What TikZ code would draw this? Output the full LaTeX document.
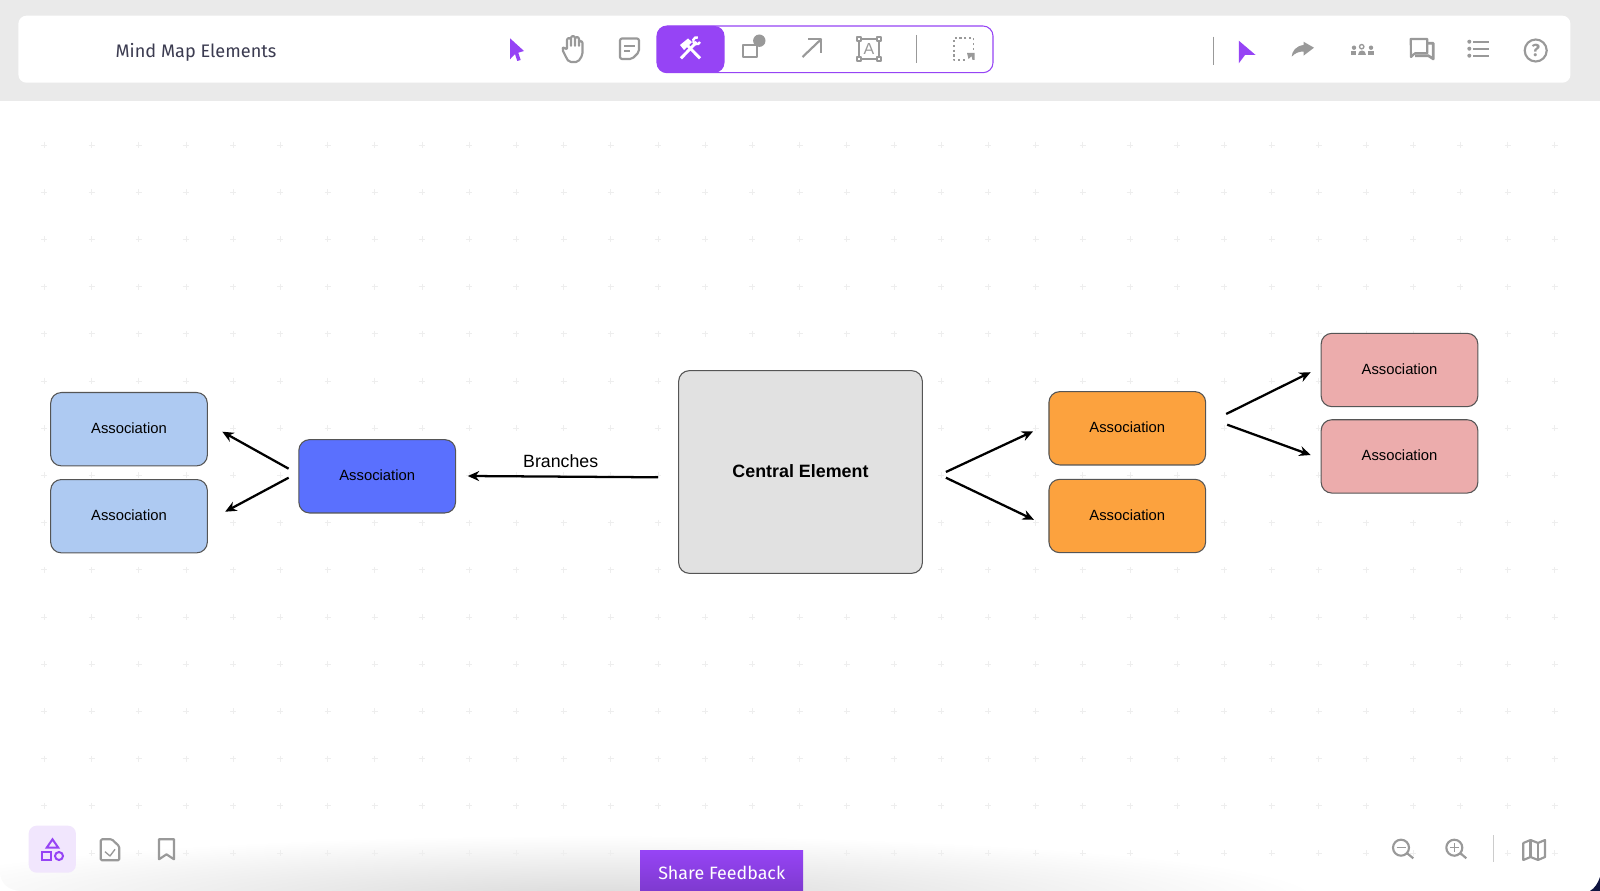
\documentclass[tikz,border=0pt]{standalone}
\usepackage{fontspec}
\setmainfont{Liberation Sans}
\newfontfamily\uifont{Fira Sans}
\usetikzlibrary{arrows.meta}

\definecolor{barGray}{HTML}{EAEAEA}
\definecolor{iconGray}{HTML}{999999}
\definecolor{toolPurple}{HTML}{9644F5}
\definecolor{feedbackDark}{HTML}{7E3ACF}
\definecolor{paleLilac}{HTML}{F1E6FD}
\definecolor{titleInk}{HTML}{3B3B50}
\definecolor{gridGray}{HTML}{EEEEEE}
\definecolor{glowGray}{HTML}{DADADA}
\definecolor{edgeGray}{HTML}{555555}
\definecolor{skyFill}{HTML}{AECAF2}
\definecolor{blueFill}{HTML}{5A70FE}
\definecolor{centralFill}{HTML}{E1E1E1}
\definecolor{orangeFill}{HTML}{FCA23E}
\definecolor{pinkFill}{HTML}{ECACAC}
\definecolor{cornerNavy}{HTML}{0F1440}

\tikzset{
  assocbox/.style={draw=edgeGray,line width=.8pt,rounded corners=8pt,inner sep=0pt,minimum width=117.5pt,minimum height=55pt,text depth=1.5pt,font=\fontsize{11.1}{13}\selectfont},
  link/.style={line width=1.7pt,-{Stealth[length=8.5pt,width=7.5pt]}},
  gridmark/.style={draw=gridGray,line width=.6pt},
  icon/.style={draw=iconGray,line width=1.6pt,line join=round},
  purpleicon/.style={draw=toolPurple,line width=1.5pt},
  whiteicon/.style={draw=white,line width=2.2pt},
  divider/.style={draw=iconGray,line width=.7pt}
}

\begin{document}
\begin{tikzpicture}[x=.75pt,y=-.75pt]

\useasboundingbox (0,0) rectangle (1600,891);

\fill[white] (0,0) rectangle (1600,891);
\begin{scope}
\clip (0,0) rectangle (1600,891);
\shade[inner color=glowGray,outer color=white] (-120,835) rectangle (1320,960);
\end{scope}

\foreach \i in {0,...,32}
  \foreach \j in {0,...,15}
    \draw[gridmark] (44.3+47.2*\i,145+47.2*\j) +(-3,0) -- +(3,0) +(0,-3) -- +(0,3);

\fill[white] (0,873) .. controls (1,884) and (8,890) .. (20,891) -- (0,891) -- cycle;
\fill[cornerNavy] (1600,877) .. controls (1598,883) and (1595,888) .. (1590,891) -- (1600,891) -- cycle;

\fill[barGray] (0,0) rectangle (1600,101);
\fill[white,rounded corners=6pt] (18.4,15.7) rectangle (1570.4,82.7);

\node at (196,52.5) [font=\uifont\fontsize{13.6}{16}\selectfont,text=titleInk] (title) {Mind Map Elements};

\fill[toolPurple] (510,38.3) -- (524,51) -- (518.3,52.7) -- (520.7,60) -- (517.3,61) -- (515,54) -- (510,59.3) -- cycle;

\draw[icon,rounded corners=1.5pt] (562,49) -- (567,59) -- (569,62) -- (578,62) -- (582.5,55) -- (582.5,41) -- (579,41) -- (579,47) -- (579,37) -- (575,37) -- (575,47) -- (575,36) -- (571,36) -- (571,47) -- (571,38) -- (567,38) -- (567,50) -- (564,47) -- cycle;

\draw[icon,rounded corners=1.5pt] (620,38.5) -- (639,38.5) -- (639,52) -- (632,59) -- (620,59) -- cycle;
\draw[icon] (624,45.7) -- (635,45.7);
\draw[icon] (624,51) -- (630,51);

\draw[draw=toolPurple,line width=.8pt,rounded corners=7.5pt] (657,26) rectangle (993,72.7);
\fill[toolPurple,rounded corners=7.5pt] (657,26) rectangle (724.5,72.7);
\draw[whiteicon] (681,58.3) -- (696.7,42);
\draw[whiteicon] (700,58.3) -- (686,44);
\fill[white] (680,45) -- (688,38.5) -- (692,42) -- (684,50) -- cycle;
\draw[white,line width=1.8pt] (700,42) arc (20:290:3.5);

\fill[iconGray] (759.3,40.7) circle (6.2);
\draw[icon,fill=white] (743.3,45) rectangle (756.7,57.3);

\draw[icon] (802.5,57) -- (821.4,39);
\draw[icon] (808,39) -- (821.4,39) -- (821.4,53);

\draw[icon] (859,39) rectangle (879,59);
\draw[icon,fill=white,line width=1pt] (857,37) rectangle +(4,4);
\draw[icon,fill=white,line width=1pt] (877,37) rectangle +(4,4);
\draw[icon,fill=white,line width=1pt] (857,57) rectangle +(4,4);
\draw[icon,fill=white,line width=1pt] (877,57) rectangle +(4,4);
\node at (869,49) [font=\fontsize{12}{12}\selectfont,text=iconGray,inner sep=0pt] (framedA) {A};

\draw[divider] (916.8,35) -- (916.8,62.7);

\draw[icon,dotted,line width=1.3pt] (973.5,50) -- (973.5,38) -- (954,38) -- (954,60) -- (965,60);
\fill[iconGray] (967,53) -- (974.5,53) -- (974.5,60) -- (972.5,60) -- (971.5,56) -- (968.5,59) -- cycle;

\draw[divider] (1213.3,36.7) -- (1213.3,65);

\fill[toolPurple] (1238.8,40.7) -- (1255.6,55) -- (1245,55) -- (1238.8,63.3) -- cycle;

\fill[iconGray] (1314,47.7) -- (1303.5,41.7) -- (1303.5,45) .. controls (1296,46) and (1292,51) .. (1291.7,56.7) .. controls (1295,53) and (1299,51.5) .. (1303.5,51.5) -- (1303.5,55.7) -- cycle;

\draw[icon,line width=1pt] (1361.7,46.7) circle (2.2);
\fill[iconGray] (1357.5,55) .. controls (1357.5,49.5) and (1366,49.5) .. (1366,55) -- cycle;
\fill[iconGray] (1354,47.7) circle (2.2);
\fill[iconGray] (1371,47.7) circle (2.2);
\fill[iconGray] (1350.7,55) rectangle (1356.2,51);
\fill[iconGray] (1367.8,55) rectangle (1374.3,51);

\draw[icon] (1410.7,39) -- (1427.3,39) -- (1427.3,53.3) -- (1415,53.3) -- (1411,57) -- cycle;
\draw[icon,line width=2pt] (1428,43.3) -- (1433.3,43.3) -- (1433.3,59) -- (1428.3,55.7) -- (1415,55.7);

\fill[iconGray] (1469.3,41.7) circle (2);
\fill[iconGray] (1469.3,48.7) circle (2);
\fill[iconGray] (1469.3,55.7) circle (2);
\draw[icon] (1473.3,41.7) -- (1489.3,41.7);
\draw[icon] (1473.3,48.7) -- (1489.3,48.7);
\draw[icon] (1473.3,55.7) -- (1489.3,55.7);

\node at (1535.7,50.5) [circle,icon,minimum size=16.5pt,inner sep=0pt,font=\uifont\fontsize{13}{13}\selectfont\bfseries,text=iconGray] (helpmark) {?};

\node at (129,429.2) [assocbox,fill=skyFill] (skyA) {Association};
\node at (129,516.2) [assocbox,fill=skyFill] (skyB) {Association};
\node at (377.2,476.3) [assocbox,fill=blueFill] (blue) {Association};
\node at (800.5,472) [assocbox,fill=centralFill,minimum width=182.8pt,minimum height=152pt,font=\fontsize{13.4}{15}\selectfont\bfseries] (central) {Central Element};
\node at (1127.3,428.3) [assocbox,fill=orangeFill] (orangeA) {Association};
\node at (1127.3,516) [assocbox,fill=orangeFill] (orangeB) {Association};
\node at (1399.5,370) [assocbox,fill=pinkFill] (pinkA) {Association};
\node at (1399.5,456.4) [assocbox,fill=pinkFill] (pinkB) {Association};

\draw[link] ([shift={(-20,5.3)}]central.west) -- ([shift={(11.8,-.3)}]blue.east);
\node at (560.7,460.7) [font=\fontsize{13.3}{15}\selectfont,inner sep=0pt] (branches) {Branches};

\draw[link] ([shift={(-9.7,-7.6)}]blue.west) -- ([shift={(14.4,2.5)}]skyA.east);
\draw[link] ([shift={(-9.7,1.4)}]blue.west) -- ([shift={(17.3,-4.5)}]skyB.east);

\draw[link] ([shift={(23,0)}]central.east) -- ([shift={(-15.3,3)}]orangeA.west);
\draw[link] ([shift={(23,5.7)}]central.east) -- ([shift={(-14.5,3.8)}]orangeB.west);

\draw[link] ([shift={(20,-14.3)}]orangeA.east) -- ([shift={(-10,2.2)}]pinkA.west);
\draw[link] ([shift={(21,-3.6)}]orangeA.east) -- ([shift={(-10,-1.4)}]pinkB.west);

\fill[paleLilac,rounded corners=6pt] (28.7,825.7) rectangle (75.9,872.7);
\draw[purpleicon] (46.7,847.7) -- (52.5,839.3) -- (58.3,847.7) -- cycle;
\draw[purpleicon] (42.3,852) rectangle (50.7,860);
\draw[purpleicon] (59,856) circle (4);

\draw[icon,rounded corners=1pt] (100.7,839.3) -- (112,839.3) -- (119.3,846.5) -- (119.3,860.3) -- (100.7,860.3) -- cycle;
\draw[icon,line width=1pt] (105,851.7) -- (110,856) -- (115,849.3);

\draw[icon] (159,839.3) -- (174,839.3) -- (174,859.3) -- (166.5,854.3) -- (159,859.3) -- cycle;

\fill[top color=toolPurple,bottom color=feedbackDark] (640,850.7) rectangle (803,891);
\node at (721.7,873) [font=\uifont\fontsize{13.4}{15}\selectfont,text=white] (feedback) {Share Feedback};

\draw[icon] (1401,847.7) circle (8);
\draw[icon] (1407,853.2) -- (1413.3,858.3);
\draw[icon,line width=1pt] (1396.5,847.7) -- (1405.5,847.7);

\draw[icon] (1454.3,847.7) circle (8);
\draw[icon] (1460.3,853.2) -- (1466.3,858.3);
\draw[icon,line width=1pt] (1449.8,847.7) -- (1458.8,847.7);
\draw[icon,line width=1pt] (1454.3,843.2) -- (1454.3,852.2);

\draw[divider,draw=iconGray!50] (1493,835) -- (1493,862.3);

\draw[icon] (1523.3,843) -- (1530.5,840) -- (1538,843) -- (1545,840) -- (1545,857) -- (1538,860) -- (1530.5,857) -- (1523.3,860) -- cycle;
\draw[icon] (1530.5,840) -- (1530.5,857);
\draw[icon] (1538,843) -- (1538,860);

\end{tikzpicture}
\end{document}
